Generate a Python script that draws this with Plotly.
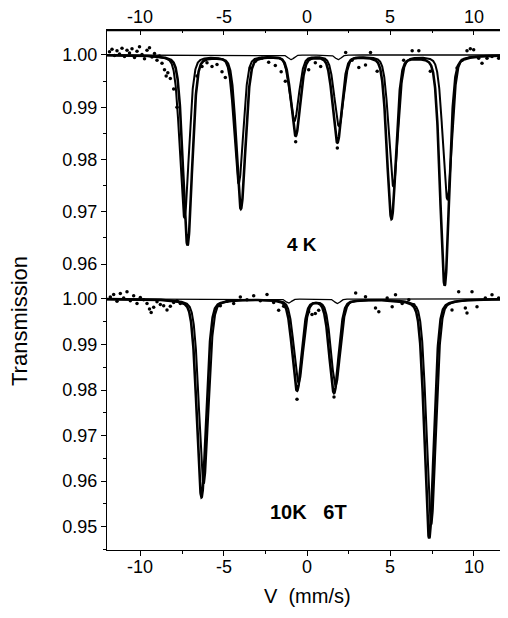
import numpy as np
import plotly.graph_objects as go

# ---------------- data ----------------
# Upper panel (4 K): fitted sextet line positions (mm/s) and depths
up_total_pos = [-7.17, -3.97, -0.68, 1.82, 5.07, 8.26]
up_total_dep = [0.0363, 0.0293, 0.0153, 0.0166, 0.0312, 0.0440]
up_sub_pos = [-7.36, -4.10, -0.76, 1.92, 5.18, 8.42]
up_sub_dep = [0.0310, 0.0245, 0.0125, 0.0135, 0.0250, 0.0275]
up_small_pos = [-0.96, 1.87]
up_small_dep = [0.0009, 0.0009]
up_fwhm = 0.64

# Lower panel (10 K, 6 T)
lo_total_pos = [-6.33, -0.60, 1.62, 7.33]
lo_total_dep = [0.0435, 0.0200, 0.0205, 0.0525]
lo_sub_pos = [-6.20, -0.50, 1.72, 7.45]
lo_sub_dep = [0.0405, 0.0182, 0.0188, 0.0495]
lo_small_pos = [-1.10, 1.82]
lo_small_dep = [0.0009, 0.0010]
lo_fwhm = 0.66

# measured points (visible ones)
up_pts_x = [-11.85, -11.7, -11.55, -11.4, -11.25, -11.1, -10.95, -10.8, -10.65, -10.5,
            -10.35, -10.2, -10.05, -9.9, -9.75, -9.6, -9.45, -9.3, -9.15, -9.0,
            -8.85, -8.7, -8.55, -8.45, -8.35, -8.2, -8.0, -7.8, -6.6, -6.3,
            -6.0, -5.7, -5.4, -5.1, -4.9, -3.4, -3.1, -2.7, -2.3, -1.9,
            -1.55, -1.3, 0.1, 0.5, 0.82, 2.32, 2.7, 3.11, 3.51, 3.81,
            4.21, 5.8, 6.31, 6.71, 7.0, 7.4, 9.0, 9.3, 9.6, 9.8,
            10.0, 10.3, 10.5, 10.8, 11.1, 11.5, 11.8, -0.68, 1.82]
up_pts_y = [1.0006, 1.0011, 0.9999, 1.0008, 1.0002, 1.0013, 0.9997, 1.0009, 1.0004, 1.0012,
            0.9995, 1.0007, 1.0016, 1.0001, 0.9993, 1.0009, 1.0014, 0.9996, 1.0003, 0.9990,
            0.9998, 0.9984, 0.9972, 0.9960, 0.9966, 0.9955, 0.9935, 0.9900, 0.9960, 0.9978,
            0.9985, 0.9978, 0.9982, 0.9968, 0.9957, 0.9975, 0.9988, 0.9994, 0.9986, 0.9980,
            0.9968, 0.9950, 0.9972, 0.9985, 0.9978, 1.0005, 0.9990, 0.9976, 0.9981, 1.0005,
            0.9969, 0.9990, 1.0008, 1.0008, 0.9992, 0.9969, 0.9975, 0.9990, 1.0008, 1.0012,
            1.0010, 0.9994, 0.9984, 0.9994, 0.9997, 0.9994, 0.9997, 0.9834, 0.9822]

lo_pts_x = [-11.8, -11.6, -11.4, -11.2, -11.0, -10.8, -10.6, -10.4, -10.2, -10.0,
            -9.8, -9.6, -9.45, -9.35, -9.2, -9.0, -8.8, -8.6, -8.4, -8.2,
            -8.0, -7.8, -7.6, -5.2, -4.8, -4.4, -4.0, -3.6, -3.2, -2.8,
            -2.4, -2.0, -1.7, -1.4, 0.1, 0.3, 0.5, 0.7, 2.92, 3.51,
            4.11, 4.31, 4.81, 5.11, 5.31, 5.71, 6.11, 6.41, 8.7, 9.1,
            9.5, 9.6, 9.9, 10.2, 10.7, 11.1, 11.5, 11.8, -0.6, 1.62]
lo_pts_y = [1.0004, 1.0010, 0.9995, 1.0012, 1.0002, 1.0016, 0.9996, 1.0007, 0.9990, 1.0003,
            0.9998, 0.9990, 0.9978, 0.9970, 0.9982, 0.9994, 0.9988, 0.9985, 0.9976, 0.9984,
            0.9992, 0.9996, 0.9990, 0.9985, 0.9995, 0.9990, 1.0004, 0.9998, 1.0007, 0.9996,
            1.0010, 0.9992, 0.9975, 0.9984, 0.9972, 0.9966, 0.9968, 0.9975, 1.0013, 1.0005,
            0.9980, 0.9972, 1.0002, 0.9983, 1.0009, 0.9990, 0.9998, 0.9987, 0.9976, 1.0016,
            0.9980, 0.9969, 1.0016, 0.9983, 1.0002, 1.0009, 1.0002, 1.0005, 0.9780, 0.9785]

x_ticks = [-10, -5, 0, 5, 10]
x_tick_text = ["-10", "-5", "0", "5", "10"]
up_y_ticks = [0.96, 0.97, 0.98, 0.99, 1.00]
lo_y_ticks = [0.95, 0.96, 0.97, 0.98, 0.99, 1.00]

# ---------------- curves from the fitted line parameters ----------------
vx = np.linspace(-12, 12, 2401)
ETA = 0.25  # Lorentzian fraction of the pseudo-Voigt line shape


def spectrum(pos, dep, fwhm):
    sig = fwhm / 2.3548
    hw = fwhm / 2.0
    y = np.ones_like(vx)
    for p, d in zip(pos, dep):
        g = np.exp(-((vx - p) ** 2) / (2 * sig**2))
        l = hw**2 / ((vx - p) ** 2 + hw**2)
        y -= d * ((1 - ETA) * g + ETA * l)
    return y


fig = go.Figure()
BLACK = "#000000"

for pos, dep, w, lw, ax in [
    (up_small_pos, up_small_dep, 0.4, 1.3, ("x2", "y2")),
    (up_sub_pos, up_sub_dep, up_fwhm, 2.0, ("x2", "y2")),
    (up_total_pos, up_total_dep, up_fwhm, 2.6, ("x2", "y2")),
    (lo_small_pos, lo_small_dep, 0.4, 1.3, ("x", "y")),
    (lo_sub_pos, lo_sub_dep, lo_fwhm, 2.0, ("x", "y")),
    (lo_total_pos, lo_total_dep, lo_fwhm, 2.6, ("x", "y")),
]:
    fig.add_trace(go.Scatter(x=vx, y=spectrum(pos, dep, w), mode="lines",
                             line=dict(color=BLACK, width=lw),
                             xaxis=ax[0], yaxis=ax[1], showlegend=False,
                             hoverinfo="skip"))

fig.add_trace(go.Scatter(x=up_pts_x, y=up_pts_y, mode="markers",
                         marker=dict(color=BLACK, size=3.5),
                         xaxis="x2", yaxis="y2", showlegend=False))
fig.add_trace(go.Scatter(x=lo_pts_x, y=lo_pts_y, mode="markers",
                         marker=dict(color=BLACK, size=3.5),
                         xaxis="x", yaxis="y", showlegend=False))

FONT = "Liberation Sans, Arial, sans-serif"
split = 0.504
up_range = [0.95545, 1.00478]
lo_range = [0.94489, 1.00242]
TICKFONT = dict(family=FONT, size=18, color=BLACK)

common_y = dict(showgrid=False, zeroline=False, showline=True, linecolor=BLACK,
                linewidth=1.3, ticks="outside", ticklen=5, tickwidth=1.2,
                tickcolor=BLACK, tickformat=".2f", tickfont=TICKFONT,
                mirror="ticks",
                minor=dict(ticks="outside", ticklen=3, tickwidth=1, dtick=0.005,
                           tickcolor=BLACK))

# The page adds an 8px margin around the figure, so the figure is made
# smaller and its margins are shifted by 8px to keep the plot in place.
PLOT_W, PLOT_H = 400, 520
M_L, M_T = 99, 22
FIG_W, FIG_H = 500, 602

# x tick labels (bottom and top) placed as text next to the axes
x_labels = [
    dict(text=t, x=v, xref="x", y=yy, yref="paper",
         showarrow=False, xanchor="center", yanchor="middle", font=TICKFONT)
    for v, t in zip(x_ticks, x_tick_text)
    for yy in (-(567 - 550) / PLOT_H, 1 + (30 - 16.5) / PLOT_H)
]

fig.update_layout(
    width=FIG_W, height=FIG_H,
    margin=dict(l=M_L, r=FIG_W - M_L - PLOT_W, t=M_T, b=FIG_H - M_T - PLOT_H,
                pad=0, autoexpand=False),
    paper_bgcolor="white", plot_bgcolor="white",
    xaxis=dict(range=[-12, 12], domain=[0, 1], anchor="y", showgrid=False,
               zeroline=False, showline=True, linecolor=BLACK, linewidth=1.3,
               tickvals=x_ticks, showticklabels=False, ticks="outside", ticklen=5,
               tickwidth=1.2, tickcolor=BLACK,
               minor=dict(ticks="outside", ticklen=3, tickwidth=1, dtick=2.5,
                          tickcolor=BLACK)),
    xaxis2=dict(range=[-12, 12], domain=[0, 1], anchor="y2", side="top",
                showgrid=False, zeroline=False, showline=True, linecolor=BLACK,
                linewidth=1.3, tickvals=x_ticks, showticklabels=False,
                ticks="inside", ticklen=5, tickwidth=1.2, tickcolor=BLACK,
                minor=dict(ticks="inside", ticklen=3, tickwidth=1, dtick=2.5,
                           tickcolor=BLACK)),
    yaxis=dict(range=lo_range, domain=[0, split], anchor="x",
               tickvals=lo_y_ticks, **common_y),
    yaxis2=dict(range=up_range, domain=[split, 1], anchor="x2",
                tickvals=up_y_ticks, **common_y),
    shapes=[
        # outer frame: top and right edges of the plotting area
        dict(type="line", xref="paper", yref="paper", x0=0, x1=1, y0=0.999,
             y1=0.999, line=dict(color=BLACK, width=1.6), layer="above"),
        dict(type="line", xref="paper", yref="paper", x0=0.997, x1=0.997,
             y0=0, y1=1, line=dict(color=BLACK, width=1.6), layer="above"),
    ],
    annotations=x_labels + [
        dict(text="Transmission", x=(11 - M_L) / PLOT_W, y=(550 - 321) / PLOT_H,
             xref="paper", yref="paper", textangle=-90, xanchor="center",
             yanchor="middle", showarrow=False,
             font=dict(family=FONT, size=22, color=BLACK)),
        dict(text="V  (mm/s)", x=0.5, y=-(596 - 550) / PLOT_H, xref="paper",
             yref="paper", showarrow=False, xanchor="center", yanchor="middle",
             font=dict(family=FONT, size=20, color=BLACK)),
        dict(text="<b>4 K</b>", x=-0.3, y=0.9637, xref="x2", yref="y2",
             showarrow=False, font=dict(family=FONT, size=19, color=BLACK)),
        dict(text="<b>10K   6T</b>", x=0.1, y=0.9532, xref="x", yref="y",
             showarrow=False, font=dict(family=FONT, size=20, color=BLACK)),
    ],
)

fig.write_html("out.html", config={"displayModeBar": False})
